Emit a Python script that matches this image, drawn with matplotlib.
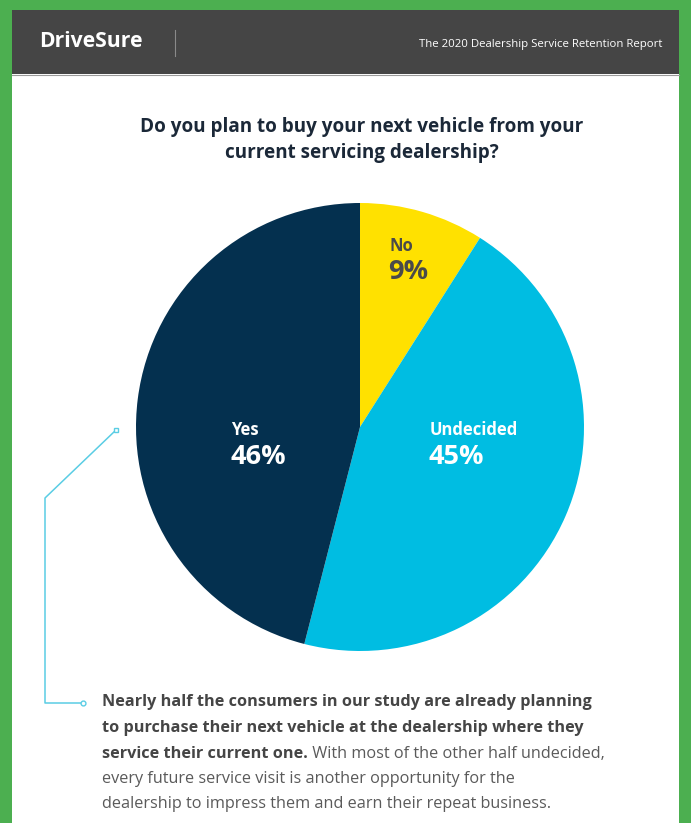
import matplotlib
matplotlib.use("Agg")
import matplotlib.pyplot as plt
from matplotlib.patches import Rectangle

# ---- data ----
categories = ["No", "Undecided", "Yes"]
values = [9, 45, 46]
pct_labels = ["9%", "45%", "46%"]

title = "Do you plan to buy your next vehicle from your\ncurrent servicing dealership?"
header_left = "DriveSure"
header_right = "The 2020 Dealership Service Retention Report"
body_bold = ["Nearly half the consumers in our study are already planning",
             "to purchase their next vehicle at the dealership where they",
             "service their current one."]
body_regular = [" With most of the other half undecided,",
                "every future service visit is another opportunity for the",
                "dealership to impress them and earn their repeat business."]

# ---- styles ----
colors = ["#FFE100", "#00BDE2", "#04304F"]
text_colors = ["#4A4A4A", "white", "white"]
label_pos = [(0.13, 0.74), (0.31, -0.085), (-0.575, -0.085)]  # in pie axes units, left-aligned
W, H = 691, 823
FONT = ["Open Sans", "DejaVu Sans"]
plt.rcParams["font.family"] = FONT

fig = plt.figure(figsize=(W / 100, H / 100), dpi=100)
fig.patch.set_facecolor("#4CAF50")

# background overlay in pixel coords
bg = fig.add_axes([0, 0, 1, 1])
bg.set_xlim(0, W)
bg.set_ylim(H, 0)
bg.axis("off")
bg.add_patch(Rectangle((12, 74), 667, H - 74, facecolor="white", edgecolor="none"))
bg.add_patch(Rectangle((12, 10), 667, 64, facecolor="#454545", edgecolor="none"))
bg.plot([12, 679], [74.5, 74.5], color="#9a9a9a", lw=0.8)
bg.text(39, 41, header_left, color="white", fontsize=15.2, fontweight="bold",
        ha="left", va="center")
bg.plot([175, 175], [30, 56], color="#8a8a8a", lw=0.8)
bg.text(662, 44, header_right, color="white", fontsize=8.2, ha="right", va="center")

bg.text(362, 140, title, color="#1B2838", fontsize=13.6, fontweight="bold",
        ha="center", va="center", linespacing=1.35)

# callout line
lc = "#5ACDE4"
bg.plot([116, 45, 45, 83], [430, 498, 703, 703], color=lc, lw=1.1)
bg.plot([116], [430], marker="s", ms=3.5, mfc="white", mec=lc, mew=1)
bg.plot([83], [703], marker="o", ms=3.5, mfc="white", mec=lc, mew=1)

# body text
ys = [702, 728, 754, 779, 804]
fs = 11.7
for i, line in enumerate(body_bold):
    t = bg.text(102, ys[i], line, color="#454545", fontsize=fs, fontweight="bold",
                ha="left", va="center")
bg.annotate(body_regular[0], xy=(1, 0.5), xycoords=t, color="#5A5A5A", fontsize=fs,
            ha="left", va="center")
for j, line in enumerate(body_regular[1:]):
    bg.text(102, ys[3 + j], line, color="#5A5A5A", fontsize=fs, ha="left", va="center")

# pie
cx, cy, r = 360, 427, 224
pax = fig.add_axes([(cx - r) / W, (H - cy - r) / H, 2 * r / W, 2 * r / H])
pax.pie(values, colors=colors, startangle=90, counterclock=False, radius=1,
        wedgeprops=dict(linewidth=0))
pax.set_xlim(-1, 1)
pax.set_ylim(-1, 1)
pax.set_aspect("auto")
pax.axis("off")
for cat, pct, (lx, ly), tc in zip(categories, pct_labels, label_pos, text_colors):
    pax.text(lx, ly + 0.07, cat, color=tc, fontsize=12, fontweight="bold",
             ha="left", va="center")
    pax.text(lx - 0.005, ly - 0.05, pct, color=tc, fontsize=19.5, fontweight="bold",
             ha="left", va="center")

fig.savefig("out.png", dpi=100, facecolor=fig.get_facecolor())
